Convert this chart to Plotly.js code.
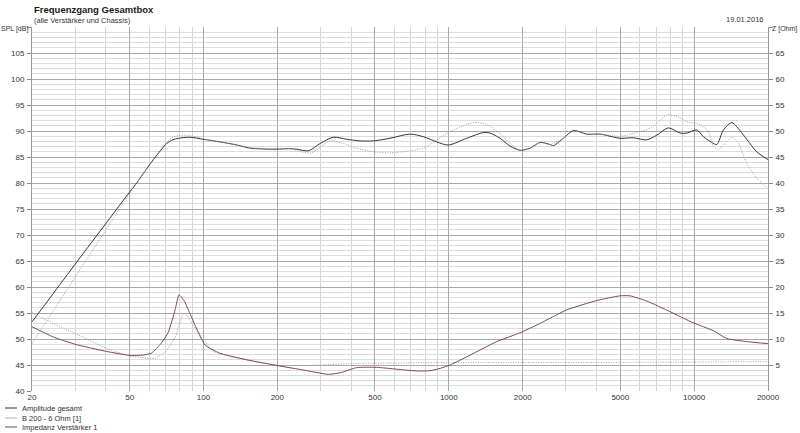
<!DOCTYPE html>
<html><head><meta charset="utf-8">
<script src="https://cdn.plot.ly/plotly-3.0.1.min.js"></script>
<style>html,body{margin:0;padding:0;background:#fff}#chart{width:800px;height:433px}</style>
</head><body><div id="chart"></div>
<script>
// ---- data ----
const seriesNames = ['Amplitude gesamt', 'B 200 - 6 Ohm [1]', 'Impedanz Verstärker 1'];

const ampFreq = [20,23,26,30,35,40,47,53.4,58,62.5,67,70.8,75,79,88,100,117,137,155,187,199,225,240,268,299,338,384,435,493,576,695,788,893,996,1183,1383,1473,1618,1777,1952,2144,2355,2587,2670,2931,3219,3651,4137,4543,4989,5655,6411,7042,7853,8765,9333,10253,10908,11802,12370,13160,14239,14924,16390,18000,20000];
const ampSPL = [53.3,57.1,60.5,64.4,68.6,72.2,76.6,80.0,82.4,84.5,86.3,87.6,88.3,88.6,88.8,88.4,87.9,87.3,86.7,86.5,86.5,86.6,86.5,86.2,87.6,88.8,88.4,88.1,88.1,88.6,89.4,88.9,87.9,87.3,88.6,89.7,89.6,88.6,87.1,86.3,86.7,87.8,87.4,87.2,88.6,90.1,89.4,89.4,89.0,88.6,88.7,88.3,89.2,90.6,89.6,89.6,90.2,88.9,87.8,87.4,90.2,91.6,90.8,88.4,86.0,84.5];

const b200Freq = [20,21.1,26,30,40,47,53.4,58,62.5,67,70.8,75,79,85,95,100,117,137,155,187,225,255,275,299,328,372,422,493,576,695,788,893,1012,1259,1428,1669,1777,1952,2144,2355,2587,2931,3219,3651,4137,4989,6022,6821,7734,8496,9333,10575,11430,11980,12557,13372,14239,15150,16390,18000,20000];
const b200SPL = [49.0,50.8,57.4,61.9,71.0,76.1,80.0,82.5,84.6,86.6,87.9,88.8,89.1,89.2,88.8,88.5,87.9,87.3,86.8,86.6,86.6,85.9,85.8,86.9,88.1,87.6,86.7,86.0,85.8,86.2,86.7,88.3,89.9,91.6,91.3,88.9,87.6,86.3,86.7,87.8,87.4,88.6,90.0,89.4,89.4,89.0,89.9,90.8,93.1,92.8,91.8,91.2,89.9,87.0,86.5,87.6,88.8,87.6,83.8,80.9,79.0];

const b200ZFreq = [20,24.4,29.9,40.3,49.2,56,63.5,70,76.8,80,82.9,86,89,95,101.5,110,150,205,300,410,1000,5000,20000];
const b200Z = [15.05,13.0,11.1,8.2,6.8,6.4,6.3,7.6,10.4,13.0,14.9,14.4,13.3,11.2,9.5,7.6,6.0,4.9,5.0,5.3,5.45,5.5,5.65];

const impFreq = [20,24.4,29.9,40.3,50.2,56.9,61.5,67.3,71.9,76.6,79.5,83.3,88.1,92.9,101.5,116.8,150,205,255,323,360,422,508,613,740,838,921,1012,1221,1568,1952,2355,3025,4009,4989,5479,6411,7979,9926,11980,13585,16390,20000];
const impZ = [12.35,10.4,9.0,7.6,6.85,6.9,7.3,9.2,11.3,15.6,18.5,17.4,14.9,12.4,8.85,7.25,6.0,4.8,4.04,3.2,3.5,4.5,4.55,4.2,3.85,3.9,4.35,5.0,6.9,9.5,11.2,13.0,15.6,17.4,18.3,18.3,17.3,15.25,13.1,11.6,10.1,9.5,9.1];

const xTickVals = [20,50,100,200,500,1000,2000,5000,10000,20000];
const xTickText = ['20','50','100','200','500','1000','2000','5000','10000','20000'];
const xMinorVals = [30,40,60,70,80,90,300,400,600,700,800,900,3000,4000,6000,7000,8000,9000];
const splTickVals = [40,45,50,55,60,65,70,75,80,85,90,95,100,105,110];
const splTickText = ['40','45','50','55','60','65','70','75','80','85','90','95','100','105',''];
const zTickVals = [5,10,15,20,25,30,35,40,45,50,55,60,65,70];
const zTickText = ['5','10','15','20','25','30','35','40','45','50','55','60','65',''];
const splUnit = 'SPL [dB]';
const zUnit = 'Z [Ohm]';
const titleText = 'Frequenzgang Gesamtbox';
const subtitleText = '(alle Verstärker und Chassis)';
const dateText = '19.01.2016';

// ---- styles ----
const FONT = 'Liberation Sans, Arial, sans-serif';
const cAmp = '#353535', cB200 = '#9c9cab', cB200Legend = '#a9aed0', cImp = '#7d4a58';
const dotted = '1px,1.5px';

const traces = [
  {x: ampFreq, y: ampSPL, name: seriesNames[0], mode: 'lines', line: {color: cAmp, width: 1, shape: 'spline', smoothing: 0.8}, yaxis: 'y'},
  {x: b200Freq, y: b200SPL, name: seriesNames[1], mode: 'lines', line: {color: cB200, width: 1, dash: dotted, shape: 'spline', smoothing: 0.8}, yaxis: 'y'},
  {x: b200ZFreq, y: b200Z, name: seriesNames[1], mode: 'lines', line: {color: cB200, width: 1, dash: dotted, shape: 'spline', smoothing: 0.5}, yaxis: 'y2'},
  {x: impFreq, y: impZ, name: seriesNames[2], mode: 'lines', line: {color: cImp, width: 1, shape: 'spline', smoothing: 0.5}, yaxis: 'y2'}
];

const W = 800, H = 433, L = 32, R = 32, T = 27, B = 42;
const pw = W - L - R, ph = H - T - B;
const px = v => (v - L) / pw;
const py = v => (H - B - v) / ph;

const annotations = [
  {text: titleText, x: px(32), y: py(10), xref: 'paper', yref: 'paper', xanchor: 'left', yanchor: 'middle', showarrow: false, font: {family: FONT, size: 9.5, color: '#1a1a1a', weight: 'bold'}},
  {text: subtitleText, x: px(32), y: py(20), xref: 'paper', yref: 'paper', xanchor: 'left', yanchor: 'middle', showarrow: false, font: {family: FONT, size: 7.5, color: '#333'}},
  {text: dateText, x: px(766), y: py(19), xref: 'paper', yref: 'paper', xanchor: 'right', yanchor: 'middle', showarrow: false, font: {family: FONT, size: 7.5, color: '#333'}},
  {text: splUnit, x: px(30), y: py(29), xref: 'paper', yref: 'paper', xanchor: 'right', yanchor: 'middle', showarrow: false, font: {family: FONT, size: 7, color: '#333'}},
  {text: zUnit, x: px(770), y: py(29), xref: 'paper', yref: 'paper', xanchor: 'left', yanchor: 'middle', showarrow: false, font: {family: FONT, size: 7, color: '#333'}}
];
const legendColors = [cAmp, cB200Legend, cImp];
const legendRows = [408, 418, 427];
const shapes = [];
seriesNames.forEach((n, i) => {
  annotations.push({text: n, x: px(20), y: py(legendRows[i]), xref: 'paper', yref: 'paper', xanchor: 'left', yanchor: 'middle', showarrow: false, font: {family: FONT, size: 7.5, color: '#333'}});
  shapes.push({type: 'line', xref: 'paper', yref: 'paper', x0: px(5), x1: px(17), y0: py(legendRows[i]), y1: py(legendRows[i]), line: {color: legendColors[i], width: 1}});
});

const layout = {
  width: W, height: H,
  margin: {l: L, r: R, t: T, b: B, pad: 0},
  paper_bgcolor: '#fff', plot_bgcolor: '#fff',
  showlegend: false,
  font: {family: FONT, size: 8, color: '#333'},
  xaxis: {
    type: 'log', range: [Math.log10(20), Math.log10(20000)],
    tickmode: 'array', tickvals: xTickVals, ticktext: xTickText,
    ticks: '', showgrid: true, gridcolor: '#a8a8a8', gridwidth: 1,
    minor: {tickmode: 'array', tickvals: xMinorVals, showgrid: true, gridcolor: '#d4d4d4', gridwidth: 1, ticks: ''},
    showline: false, zeroline: false, tickfont: {family: FONT, size: 8, color: '#333'},
    fixedrange: true
  },
  yaxis: {
    range: [40, 110], tickmode: 'array', tickvals: splTickVals, ticktext: splTickText,
    ticks: 'outside', ticklen: 4, tickcolor: '#888', tickwidth: 1,
    showgrid: true, gridcolor: '#a8a8a8', gridwidth: 1,
    minor: {dtick: 1, showgrid: true, gridcolor: '#dcdcdc', gridwidth: 1, ticks: ''},
    showline: true, linecolor: '#9a9a9a', linewidth: 1, mirror: false,
    zeroline: false, tickfont: {family: FONT, size: 8, color: '#333'}, ticklabelstandoff: 1
  },
  yaxis2: {
    range: [0, 70], overlaying: 'y', side: 'right', tickmode: 'array', tickvals: zTickVals, ticktext: zTickText,
    ticks: 'outside', ticklen: 4, tickcolor: '#888', tickwidth: 1,
    showgrid: false, showline: true, linecolor: '#9a9a9a', linewidth: 1, zeroline: false,
    tickfont: {family: FONT, size: 8, color: '#333'}, ticklabelstandoff: 1
  },
  annotations: annotations,
  shapes: shapes
};

Plotly.newPlot('chart', traces, layout, {displayModeBar: false, staticPlot: true});
</script>
</body></html>
